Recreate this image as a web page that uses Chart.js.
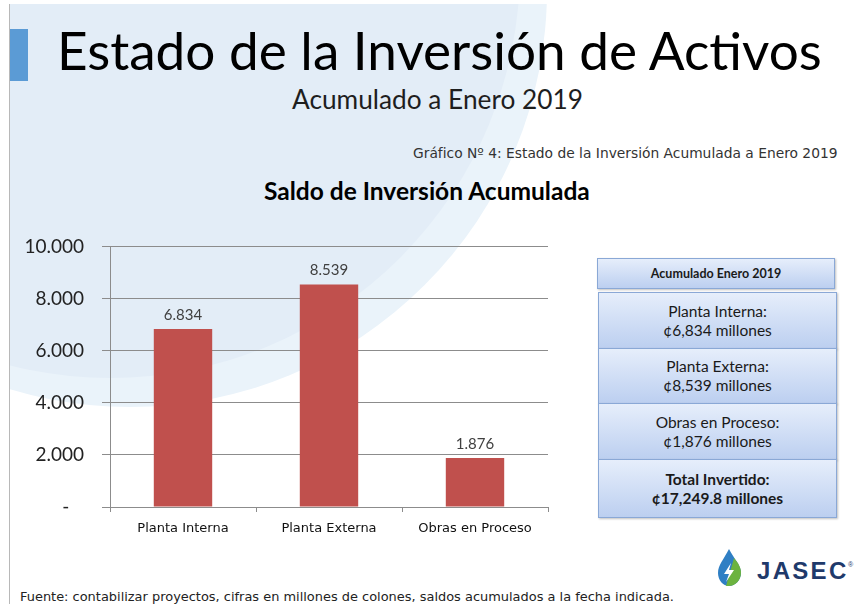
<!DOCTYPE html>
<html lang="es">
<head>
<meta charset="utf-8">
<title>Estado de la Inversión de Activos</title>
<script src="https://cdn.jsdelivr.net/npm/chart.js@4.4.1/dist/chart.umd.min.js"></script>
<style>
  html, body { margin: 0; padding: 0; }
  body { width: 855px; height: 604px; position: relative; overflow: hidden; background: #fff; font-family: Lato, sans-serif; }
  .slide { position: absolute; left: 9px; top: 4px; width: 846px; height: 600px; overflow: hidden; border-left: 1px solid #b8b8b8; }
  .circle { position: absolute; border-radius: 50%; }
  .accent { position: absolute; left: 10px; top: 29px; width: 18px; height: 52px; background: #5b9bd5; }
  .txt { position: absolute; left: 0; top: 0; white-space: nowrap; line-height: 1; color: #000; }
  .box { position: absolute; box-sizing: border-box; border: 1px solid #8aa8d6;
         background: linear-gradient(#e6eefb, #bccff0); box-shadow: 1px 1px 2px rgba(0,0,0,0.25);
         display: flex; flex-direction: column; justify-content: center; align-items: center;
         text-align: center; font-size: 15.5px; line-height: 19px; color: #1a1a1a; }
  #chartWrap { position: absolute; left: 10px; top: 217px; width: 550px; height: 328px; }
</style>
</head>
<body>
<div class="slide">
  <div class="circle" style="left:-297px; top:-431px; width:834px; height:834px; background:#eaf3fa;"></div>
  <div class="circle" style="left:-310px; top:-446px; width:820px; height:820px; background:#e3edf7;"></div>
</div>
<div class="accent"></div>

<div class="txt" data-x="57" data-y="70" data-w="765" style="font-size:46px;">Estado de la Inversión de Activos</div>
<div class="txt" data-x="292" data-y="109" data-w="291" style="font-size:22px; color:#1e1e1e;">Acumulado a Enero 2019</div>
<div class="txt" data-x="413" data-y="158" data-w="425" style="font-family:'DejaVu Sans'; font-size:10px; color:#333;">Gráfico Nº 4: Estado de la Inversión Acumulada a Enero 2019</div>
<div class="txt" data-x="264" data-y="200" data-w="326" style="font-size:19px; font-weight:bold;">Saldo de Inversión Acumulada</div>
<div class="txt" data-x="20" data-y="601" data-w="655" style="font-family:'DejaVu Sans'; font-size:10px; color:#222;">Fuente: contabilizar proyectos, cifras en millones de colones, saldos acumulados a la fecha indicada.</div>

<div id="chartWrap"><canvas id="saldoChart"></canvas></div>

<div class="box" style="left:597px; top:258px; width:238px; height:31px; font-size:12.5px; font-weight:bold;">Acumulado Enero 2019</div>
<div class="box" style="left:598px; top:292px; width:239px; height:57px;"><span>Planta Interna:</span><span>¢6,834 millones</span></div>
<div class="box" style="left:598px; top:348px; width:239px; height:56px;"><span>Planta Externa:</span><span>¢8,539 millones</span></div>
<div class="box" style="left:598px; top:403px; width:239px; height:57px;"><span>Obras en Proceso:</span><span>¢1,876 millones</span></div>
<div class="box" style="left:598px; top:459px; width:239px; height:59px; font-weight:bold;"><span>Total Invertido:</span><span>¢17,249.8 millones</span></div>

<svg style="position:absolute; left:712px; top:545px;" width="143" height="45" viewBox="0 0 143 45">
  <path d="M17 4 C12 14 6 20 6 28 C6 35 11 41 17 41 C23 41 29 35 29 28 C29 20 22 14 17 4 Z" fill="#2f7fc4"/>
  <path d="M17 41 C23 41 29 35 29 28 C29 22 26 18 22 13 L14 41 Z" fill="#6cb33f"/>
  <path d="M19 18 L12 29 L17 29 L14 37 L22 25 L17 25 Z" fill="#fff"/>
  <text x="45" y="34" font-family="Liberation Sans, Arial, sans-serif" font-weight="bold" font-size="24" letter-spacing="2.3" fill="#1f3a6b">JASEC</text>
  <text x="136" y="22" font-family="Liberation Sans, Arial, sans-serif" font-size="7" fill="#1f3a6b">®</text>
</svg>

<script>
// datos del gráfico
const categorias = ['Planta Interna', 'Planta Externa', 'Obras en Proceso'];
const saldo = [6834, 8539, 1876];
const yMin = 0;
const yMax = 10000;
const yPaso = 2000;

const formato = n => n === 0 ? '-   ' : String(n).replace(/\B(?=(\d{3})+(?!\d))/g, '.');

// ajusta ancho y línea base de los textos
document.querySelectorAll('.txt').forEach(el => {
  const fs = parseFloat(getComputedStyle(el).fontSize);
  const w = el.getBoundingClientRect().width;
  el.style.fontSize = (fs * el.dataset.w / w) + 'px';
  el.style.left = el.dataset.x + 'px';
  const mark = document.createElement('span');
  mark.style.cssText = 'display:inline-block;width:0;height:0;';
  el.appendChild(mark);
  const base = mark.getBoundingClientRect().top;
  el.style.top = (el.dataset.y - base) + 'px';
});

const etiquetas = {
  id: 'etiquetas',
  afterDatasetsDraw(chart) {
    const ctx = chart.ctx;
    ctx.save();
    ctx.font = '15px Lato';
    ctx.fillStyle = '#404040';
    ctx.textAlign = 'center';
    chart.getDatasetMeta(0).data.forEach((bar, i) => {
      ctx.fillText(formato(saldo[i]), bar.x, bar.y - 9);
    });
    ctx.restore();
  }
};

const ctx = document.getElementById('saldoChart').getContext('2d');
new Chart(ctx, {
  type: 'bar',
  data: {
    labels: categorias,
    datasets: [{
      data: saldo,
      backgroundColor: '#c0504d',
      barPercentage: 0.4,
      categoryPercentage: 1
    }]
  },
  options: {
    responsive: true,
    maintainAspectRatio: false,
    animation: false,
    layout: { padding: { top: 9, right: 12, left: 0, bottom: 0 } },
    plugins: { legend: { display: false }, tooltip: { enabled: false } },
    scales: {
      x: {
        afterFit: s => { s.height = 38; },
        grid: { drawOnChartArea: false, tickLength: 5, color: '#8c8c8c' },
        border: { color: '#8c8c8c' },
        ticks: { color: '#111', padding: 9, font: { family: 'DejaVu Sans', size: 13 } }
      },
      y: {
        min: yMin,
        max: yMax,
        afterFit: s => { s.width = 100; },
        grid: { color: '#8c8c8c', tickLength: 8 },
        border: { color: '#8c8c8c' },
        ticks: { stepSize: yPaso, padding: 18, color: '#222', font: { family: 'Lato', size: 19 }, callback: v => formato(v) }
      }
    }
  },
  plugins: [etiquetas]
});
</script>
</body>
</html>
